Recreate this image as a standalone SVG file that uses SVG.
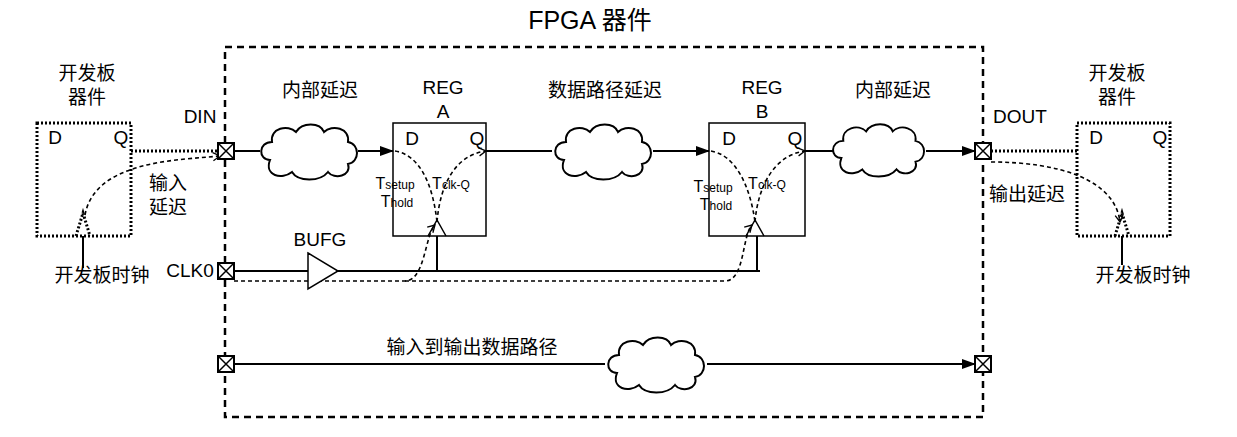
<svg xmlns="http://www.w3.org/2000/svg" width="1237" height="437" viewBox="0 0 1237 437">
<style>
text{font-family:"Liberation Sans","Noto Sans CJK SC",sans-serif;fill:#000;font-size:19px;text-anchor:middle}
.title{font-size:25px}
.s{fill:none;stroke:#000;stroke-width:2}
.dot{fill:none;stroke:#000;stroke-width:3;stroke-dasharray:2 2}
.dash{fill:none;stroke:#000;stroke-width:1.6;stroke-dasharray:4 3}
.sub{font-size:12px}
</style>
<defs>
<marker id="ar" markerWidth="14" markerHeight="10" refX="13" refY="5" orient="auto" markerUnits="userSpaceOnUse"><path d="M0,0 L14,5 L0,10 Z" fill="#000"/></marker>
<marker id="op" markerWidth="10" markerHeight="10" refX="8" refY="5" orient="auto" markerUnits="userSpaceOnUse"><path d="M1,1 L8,5 L1,9" fill="none" stroke="#000" stroke-width="1.3"/></marker>
<path id="cloud" d="M12,40 C0,40 0,22 14,22 C12,8 30,4 38,12 C44,2 62,2 66,12 C74,4 92,8 90,22 C102,24 102,42 90,44 C94,56 76,60 70,52 C62,62 40,62 34,52 C24,60 6,56 12,40 Z" fill="#fff" stroke="#000" stroke-width="2"/>
<g id="pad"><rect x="0" y="0" width="16" height="16" fill="#fff" stroke="#000" stroke-width="2"/><path d="M0,0 L16,16 M16,0 L0,16" stroke="#000" stroke-width="1.5"/></g>
</defs>
<rect width="1237" height="437" fill="#fff"/>
<g id="fpga"><rect x="225" y="47" width="758" height="370" fill="none" stroke="#000" stroke-width="2.5" stroke-dasharray="7 5"/><text class="title" x="590" y="29">FPGA 器件</text></g>
<g id="connectors">
<path class="dot" d="M131,151 H218"/>
<path class="dash" marker-end="url(#op)" d="M85,215 C95,160 180,160 220,156"/>
<path class="s" marker-end="url(#ar)" d="M234,151 H260 M358,151 H393"/>
<path class="s" marker-end="url(#ar)" d="M486,151 H552 M653,151 H709"/>
<path class="s" marker-end="url(#ar)" d="M805,151 H836 M926,151 H975"/>
<path class="dot" d="M991,151 H1077"/>
<path class="dash" marker-end="url(#op)" d="M991,162 C1060,162 1115,180 1120,222"/>
<path class="s" d="M234,271 H308 M338,271 H760 M437,271 V236 M757,271 V236"/>
<path class="dash" marker-end="url(#op)" d="M234,281 H405 C425,281 425,235 435,225"/>
<path class="dash" marker-end="url(#op)" d="M405,281 H725 C745,281 742,235 752,225"/>
<path class="dash" d="M395,151 C420,155 433,185 437,222"/>
<path class="dash" marker-end="url(#op)" d="M437,222 C440,185 455,155 486,151"/>
<path class="dash" d="M711,151 C735,155 750,185 755,222"/>
<path class="dash" marker-end="url(#op)" d="M755,222 C758,185 775,155 805,151"/>
<path class="s" d="M83,236 V268 M1122,236 V265"/>
<path class="s" d="M234,364 H605"/>
<path class="s" marker-end="url(#ar)" d="M707,364 H975"/>
</g>
<g id="board-left"><rect x="37" y="123" width="94" height="113" class="dot"/><path class="dot" d="M76,236 L83,213 L90,236"/><text x="87" y="80">开发板</text><text x="87" y="104">器件</text><text x="55" y="144">D</text><text x="121" y="144">Q</text><text x="168" y="190">输入</text><text x="168" y="214">延迟</text><text x="102" y="282">开发板时钟</text></g>
<g id="board-right"><rect x="1077" y="123" width="93" height="113" class="dot"/><path class="dot" d="M1115,236 L1122,213 L1129,236"/><text x="1117" y="80">开发板</text><text x="1117" y="104">器件</text><text x="1096" y="144">D</text><text x="1160" y="144">Q</text><text x="1027" y="201">输出延迟</text><text x="1143" y="282">开发板时钟</text></g>
<g id="din"><use href="#pad" x="218" y="143"/><text x="200" y="123">DIN</text></g>
<g id="clk0"><use href="#pad" x="218" y="263"/><text x="190" y="277">CLK0</text></g>
<g id="dout"><use href="#pad" x="975" y="143"/><text x="1020" y="123">DOUT</text></g>
<g id="pin-in"><use href="#pad" x="218" y="356"/></g>
<g id="pin-out"><use href="#pad" x="975" y="356"/></g>
<g id="cloud1"><use href="#cloud" x="258" y="120"/><text x="320" y="97">内部延迟</text></g>
<g id="cloud2"><use href="#cloud" x="552" y="120"/><text x="605" y="97">数据路径延迟</text></g>
<g id="cloud3"><use href="#cloud" x="830" y="120" transform="translate(830,120) scale(0.95) translate(-830,-120)"/><text x="893" y="97">内部延迟</text></g>
<g id="cloud4"><use href="#cloud" x="605" y="333"/><text x="472" y="354">输入到输出数据路径</text></g>
<g id="bufg"><path d="M308,253 L338,271 L308,289 Z" fill="#fff" stroke="#000" stroke-width="1.5"/><text x="320" y="246">BUFG</text></g>
<g id="regA"><rect x="393" y="123" width="93" height="113" fill="none" stroke="#000" stroke-width="1.5"/><path d="M428,236 L437,220 L446,236" fill="none" stroke="#000" stroke-width="1.5"/><text x="443" y="94">REG</text><text x="443" y="118">A</text><text x="412" y="145">D</text><text x="477" y="145">Q</text><text x="395" y="189" text-anchor="start" font-size="16" style="font-size:16px">T<tspan class="sub">setup</tspan></text><text x="397" y="207" text-anchor="start" style="font-size:16px">T<tspan class="sub">hold</tspan></text><text x="451" y="189" text-anchor="start" style="font-size:16px">T<tspan class="sub">clk-Q</tspan></text></g>
<g id="regB"><rect x="709" y="123" width="96" height="113" fill="none" stroke="#000" stroke-width="1.5"/><path d="M746,236 L755,220 L764,236" fill="none" stroke="#000" stroke-width="1.5"/><text x="762" y="94">REG</text><text x="762" y="118">B</text><text x="729" y="145">D</text><text x="795" y="145">Q</text><text x="713" y="192" text-anchor="start" style="font-size:16px">T<tspan class="sub">setup</tspan></text><text x="716" y="210" text-anchor="start" style="font-size:16px">T<tspan class="sub">hold</tspan></text><text x="767" y="189" text-anchor="start" style="font-size:16px">T<tspan class="sub">clk-Q</tspan></text></g>
</svg>
